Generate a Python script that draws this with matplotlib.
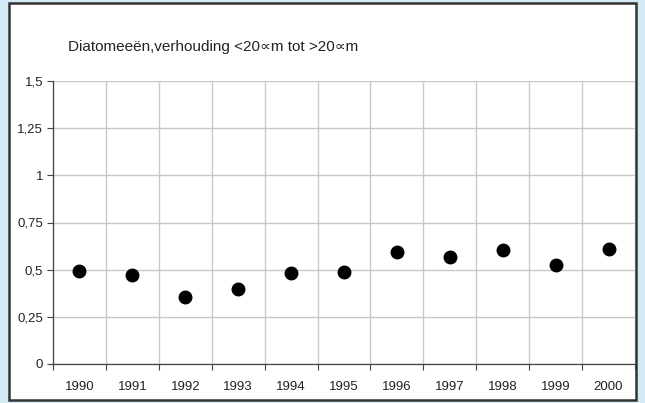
import matplotlib.pyplot as plt
import numpy as np
from matplotlib.patches import Rectangle

plt.rcParams['font.family'] = ['Liberation Sans', 'DejaVu Sans']

# data
years = ['1990', '1991', '1992', '1993', '1994', '1995', '1996', '1997', '1998', '1999', '2000']
ratio = [0.495, 0.473, 0.356, 0.40, 0.484, 0.489, 0.596, 0.569, 0.606, 0.527, 0.612]
yticks = [0, 0.25, 0.5, 0.75, 1, 1.25, 1.5]
ylabels = ['0', '0,25', '0,5', '0,75', '1', '1,25', '1,5']
title = 'Diatomeeën,verhouding <20\u221dm tot >20\u221dm'

W, H = 645, 403
fig = plt.figure(figsize=(W / 100, H / 100), dpi=100, facecolor='#d4eaf5')

# white panel with dark frame, behind the axes
fig.patches.append(Rectangle((9 / W, 1 - 400 / H), 627 / W, 397 / H,
                             transform=fig.transFigure, facecolor='white',
                             edgecolor='#333333', linewidth=1.8, zorder=-5))

ax = fig.add_axes([53 / W, 1 - 364 / H, (635 - 53) / W, (364 - 81) / H])
ax.set_zorder(2)
ax.set_facecolor('white')

x = np.arange(len(years))
ax.plot(x, ratio, 'o', color='black', markersize=9, zorder=3, clip_on=False)

ax.set_xlim(-0.5, len(years) - 0.5)
ax.set_ylim(0, 1.5)

ax.set_xticks(x)
ax.set_xticklabels(years, fontsize=9.5, color='#222222')
ax.tick_params(axis='x', which='major', length=0, pad=12.5)
ax.set_xticks(np.arange(-0.5, len(years)), minor=True)
ax.tick_params(axis='x', which='minor', length=4, width=0.8, color='#444444', direction='out')

ax.set_yticks(yticks)
ax.set_yticklabels(ylabels, fontsize=9.5, color='#222222')
ax.tick_params(axis='y', length=4, width=0.8, color='#444444', pad=3)

ax.grid(True, axis='y', which='major', color='#c8c8c8', linewidth=1)
ax.grid(True, axis='x', which='minor', color='#c8c8c8', linewidth=1)
ax.set_axisbelow(True)

for s in ['top', 'right']:
    ax.spines[s].set_visible(False)
for s in ['left', 'bottom']:
    ax.spines[s].set_color('#444444')
    ax.spines[s].set_linewidth(0.9)

fig.text(68 / W, 1 - 47 / H, title, fontsize=11, color='#222222', va='center', ha='left')

fig.savefig('out.png', dpi=100, facecolor=fig.get_facecolor())
